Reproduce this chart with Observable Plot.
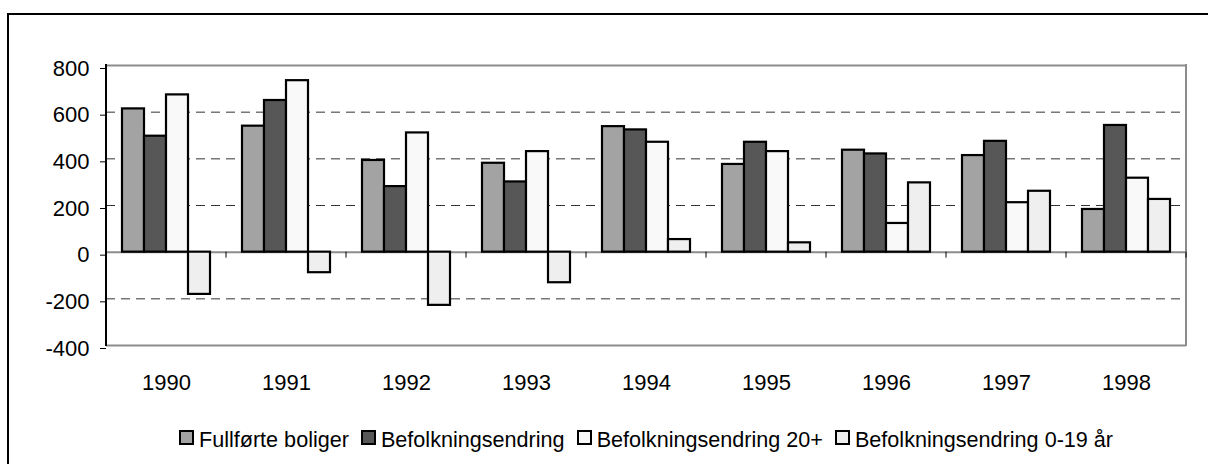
<!DOCTYPE html>
<html>
<head>
<meta charset="utf-8">
<script src="https://cdn.jsdelivr.net/npm/d3@7"></script>
<script src="https://cdn.jsdelivr.net/npm/@observablehq/plot@0.6"></script>
<style>
  html, body { margin: 0; padding: 0; background: #fff; overflow: hidden; width: 1208px; height: 464px; }
  body { position: relative; font-family: "Liberation Sans", Arial, Helvetica, sans-serif; }
  #frame { position: absolute; left: 7px; top: 13px; width: 1400px; height: 700px; border-left: 2px solid #000; border-top: 2px solid #000; pointer-events: none; }
  #chart { position: absolute; left: 0; top: 0; }
  #legend { position: absolute; left: 103px; width: 1086px; top: 427px; display: flex; justify-content: center; align-items: flex-start; font-size: 21.6px; line-height: 25px; color: #000; white-space: nowrap; }
  .item { display: flex; align-items: flex-start; margin-right: 12px; }
  .item:last-child { margin-right: 0; }
  .sw { width: 15px; height: 15px; box-sizing: border-box; border: 2px solid #000; margin-top: 3px; margin-right: 5px; }
</style>
</head>
<body>
<div id="frame"></div>
<div id="chart"></div>
<div id="legend"></div>
<script>
// ---- data ----
const years = ["1990", "1991", "1992", "1993", "1994", "1995", "1996", "1997", "1998"];
const seriesNames = ["Fullførte boliger", "Befolkningsendring", "Befolkningsendring 20+", "Befolkningsendring 0-19 år"];
const fullforteBoliger = [614, 540, 393, 381, 538, 376, 437, 414, 183];
const befolkningsendring = [497, 650, 281, 301, 524, 471, 421, 475, 543];
const befolkning20 = [674, 735, 511, 431, 471, 431, 123, 212, 317];
const befolkning019 = [-181, -88, -228, -131, 54, 40, 297, 261, 226];
const yTicks = [-400, -200, 0, 200, 400, 600, 800];
const gridTicks = [-200, 200, 400, 600];

// ---- styles ----
const seriesColors = ["#a3a3a3", "#575757", "#f9f9f9", "#efefef"];

const seriesValues = [fullforteBoliger, befolkningsendring, befolkning20, befolkning019];
const rows = [];
years.forEach((yr, i) => {
  seriesNames.forEach((s, j) => rows.push({year: yr, series: s, value: seriesValues[j][i]}));
});

const chart = Plot.plot({
  width: 1208,
  height: 410,
  marginTop: 65,
  marginLeft: 103,
  marginRight: 19,
  marginBottom: 65,
  style: {fontFamily: "'Liberation Sans', Arial, Helvetica, sans-serif", fontSize: "22px", color: "#000", background: "transparent"},
  fx: {domain: years, padding: 0, label: null, axis: null},
  x: {domain: seriesNames, paddingInner: 0, paddingOuter: 0.7, axis: null},
  y: {domain: [-400, 800], axis: null, label: null},
  color: {domain: seriesNames, range: seriesColors},
  marks: [
    Plot.ruleY(gridTicks, {stroke: "#333", strokeWidth: 1, strokeDasharray: "9,6"}),
    Plot.ruleY([800, -400, 0], {stroke: "#8c8c8c", strokeWidth: 2}),
    Plot.barY(rows, {fx: "year", x: "series", y: "value", fill: "series", stroke: "#000", strokeWidth: 2.2}),
    Plot.axisY(yTicks, {anchor: "left", label: null, tickSize: 6, tickPadding: 11, fontSize: 22, dy: 3, stroke: "#000", tickFormat: d => String(d)}),
    Plot.axisFx({anchor: "bottom", tickSize: 0, tickPadding: 29, fontSize: 22, label: null})
  ]
});
document.getElementById("chart").appendChild(chart);

// plot-area decorations from the library's scales
const fx = chart.scale("fx");
const ys = chart.scale("y");
const bw = fx.bandwidth;
const yTop = ys.apply(800), yBot = ys.apply(-400), y0 = ys.apply(0);
const xLeft = fx.apply(years[0]);
const xRight = fx.apply(years[years.length - 1]) + bw;
const g = d3.select(chart).append("g");
g.append("line").attr("x1", xRight).attr("x2", xRight).attr("y1", yTop - 1).attr("y2", yBot + 1)
  .attr("stroke", "#8c8c8c").attr("stroke-width", 2);
g.selectAll("line.tk").data(years).join("line").attr("class", "tk")
  .attr("x1", d => fx.apply(d) + bw).attr("x2", d => fx.apply(d) + bw)
  .attr("y1", y0).attr("y2", y0 + 6).attr("stroke", "#000").attr("stroke-width", 1);
g.append("line").attr("x1", xLeft).attr("x2", xLeft).attr("y1", yTop - 1).attr("y2", yBot + 1)
  .attr("stroke", "#000").attr("stroke-width", 2);

// legend
const legend = document.getElementById("legend");
seriesNames.forEach((s, i) => {
  const it = document.createElement("div");
  it.className = "item";
  const sw = document.createElement("div");
  sw.className = "sw";
  sw.style.background = seriesColors[i];
  const tx = document.createElement("span");
  tx.textContent = s;
  it.appendChild(sw);
  it.appendChild(tx);
  legend.appendChild(it);
});
</script>
</body>
</html>
